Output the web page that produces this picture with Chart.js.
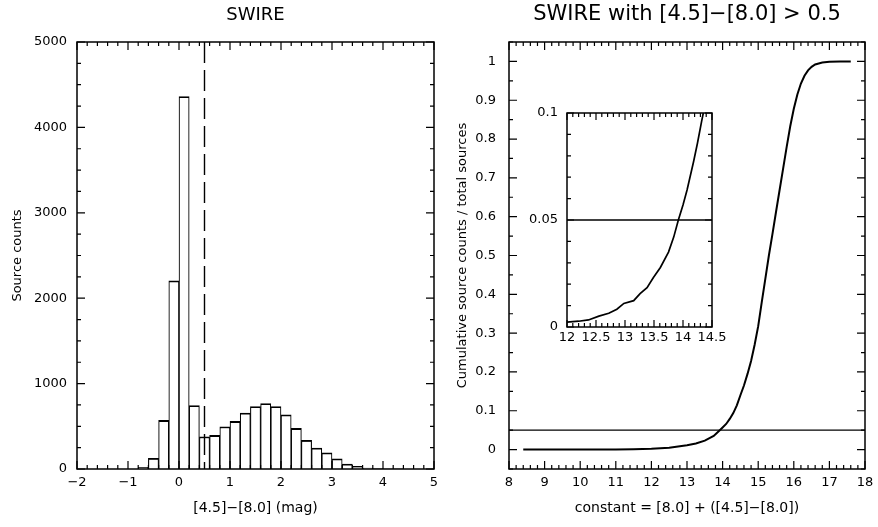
<!DOCTYPE html>
<html>
<head>
<meta charset="utf-8">
<script src="https://cdn.jsdelivr.net/npm/chart.js@4/dist/chart.umd.min.js"></script>
<style>
html, body { margin: 0; padding: 0; background: #fff; }
#wrap { position: relative; width: 878px; height: 527px; }
canvas { position: absolute; }
</style>
</head>
<body>
<div id="wrap">
  <canvas id="hist" width="440" height="527" style="left:0;top:0;width:440px;height:527px"></canvas>
  <canvas id="cumul" width="438" height="527" style="left:440px;top:0;width:438px;height:527px"></canvas>
  <canvas id="inset" width="240" height="250" style="left:500px;top:100px;width:240px;height:250px"></canvas>
</div>
<script>
// histogram of [4.5]-[8.0], bins of 0.2 mag
const binCenters = [-1.9, -1.7, -1.5, -1.3, -1.1, -0.9, -0.7, -0.5, -0.3, -0.1,
  0.1, 0.3, 0.5, 0.7, 0.9, 1.1, 1.3, 1.5, 1.7, 1.9,
  2.1, 2.3, 2.5, 2.7, 2.9, 3.1, 3.3, 3.5, 3.7, 3.9,
  4.1, 4.3, 4.5, 4.7, 4.9];
const binCounts = [0, 0, 0, 0, 0, 0, 20, 125, 569, 2204,
  4361, 744, 378, 393, 495, 557, 656, 732, 767, 732,
  635, 475, 335, 245, 190, 120, 58, 31, 12, 5,
  2, 1, 0, 0, 0];
const colourCut = 0.5;
const histXTicks = [-2, -1, 0, 1, 2, 3, 4, 5];
const histYTicks = [0, 1000, 2000, 3000, 4000, 5000];

// cumulative fraction for sources with [4.5]-[8.0] > 0.5
const cumX = [8.4, 9, 10, 11, 11.5, 12, 12.5, 13, 13.25, 13.5, 13.75, 13.92, 14.0, 14.1, 14.2,
  14.3, 14.4, 14.5, 14.6, 14.7, 14.8, 14.9, 15.0, 15.1, 15.2, 15.3, 15.4, 15.5, 15.6, 15.7,
  15.8, 15.9, 16.0, 16.1, 16.2, 16.3, 16.4, 16.5, 16.6, 16.8, 17.0, 17.3, 17.6];
const cumY = [0, 0, 0, 0.0003, 0.0007, 0.002, 0.005, 0.011, 0.0155, 0.023, 0.035, 0.05, 0.057, 0.066, 0.079,
  0.094, 0.114, 0.14, 0.165, 0.195, 0.228, 0.27, 0.318, 0.38, 0.44, 0.5, 0.555, 0.612, 0.668, 0.724,
  0.78, 0.833, 0.878, 0.915, 0.943, 0.963, 0.977, 0.986, 0.992, 0.997, 0.999, 1.0, 1.0];
const threshold = 0.05;
const cumXTicks = [8, 9, 10, 11, 12, 13, 14, 15, 16, 17, 18];
const cumYTicks = [0, 0.1, 0.2, 0.3, 0.4, 0.5, 0.6, 0.7, 0.8, 0.9, 1];

// zoom on the low end
const zoomX = [12, 12.2, 12.37, 12.55, 12.72, 12.86, 12.98, 13.15, 13.26, 13.38,
  13.49, 13.61, 13.75, 13.84, 13.92, 14.0, 14.07, 14.18, 14.25, 14.32, 14.35];
const zoomY = [0.0023, 0.0027, 0.0033, 0.0051, 0.0064, 0.0083, 0.011, 0.0123, 0.0156, 0.0184,
  0.0231, 0.0278, 0.035, 0.042, 0.05, 0.057, 0.064, 0.077, 0.086, 0.096, 0.1];
const zoomXTicks = [12, 12.5, 13, 13.5, 14, 14.5];
const zoomYTicks = [0, 0.05, 0.1];

const FONT = '"DejaVu Sans", sans-serif';
const fmt = v => String(Math.round(v * 1000) / 1000).replace('-', '\u2212');
const pts = (xs, ys) => xs.map((x, i) => ({x: x, y: ys[i]}));

// box round the plot with ticks pointing inwards on all four sides
const frameTicks = {
  id: 'frameTicks',
  afterDatasetsDraw(chart, args, o) {
    const ctx = chart.ctx, a = chart.chartArea, x = chart.scales.x, y = chart.scales.y;
    const marks = (min, max, step) => {
      let out = [];
      for (let k = Math.ceil(min / step - 1e-9); k * step <= max + 1e-9; k++) out.push(k * step);
      return out;
    };
    const isMajor = (v, step) => Math.abs(v / step - Math.round(v / step)) < 1e-6;
    ctx.save();
    ctx.strokeStyle = '#000';
    ctx.lineWidth = 1.5;
    ctx.strokeRect(a.left, a.top, a.right - a.left, a.bottom - a.top);
    ctx.beginPath();
    marks(x.min, x.max, o.xMinor).forEach(v => {
      const len = isMajor(v, o.xMajor) ? o.major : o.minor;
      const px = x.getPixelForValue(v);
      ctx.moveTo(px, a.bottom); ctx.lineTo(px, a.bottom - len);
      ctx.moveTo(px, a.top); ctx.lineTo(px, a.top + len);
    });
    marks(y.min, y.max, o.yMinor).forEach(v => {
      const len = isMajor(v, o.yMajor) ? o.major : o.minor;
      const py = y.getPixelForValue(v);
      ctx.moveTo(a.left, py); ctx.lineTo(a.left + len, py);
      ctx.moveTo(a.right, py); ctx.lineTo(a.right - len, py);
    });
    ctx.lineWidth = 1.2;
    ctx.stroke();
    ctx.restore();
  }
};

function axis(min, max, ticks, pad, size, title) {
  const ax = {
    type: 'linear', min: min, max: max, offset: false,
    grid: {display: false, drawTicks: false, offset: false},
    border: {display: false},
    afterBuildTicks: s => { s.ticks = ticks.map(v => ({value: v})); },
    ticks: {color: '#000', font: {family: FONT, size: 13}, padding: pad, autoSkip: false, maxRotation: 0, callback: fmt},
    afterFit: s => {
      // fixed axis boxes, so the plot area sits where the original has it
      if (s.isHorizontal()) s.height = size; else s.width = size;
      s.paddingLeft = s.paddingRight = s.paddingTop = s.paddingBottom = 0;
    }
  };
  if (title) ax.title = title;
  return ax;
}

function plotTitle(text, size) {
  const lh = size * 1.2;
  return {display: true, text: text, fullSize: false, color: '#000',
    font: {family: FONT, size: size, weight: 'normal', lineHeight: 1.2},
    padding: {top: 15 - lh / 2, bottom: 42 - lh - (15 - lh / 2)}};
}

function xTitle(text) {
  return {display: true, text: text, color: '#000',
    font: {family: FONT, size: 14, weight: 'normal', lineHeight: 1.2}, padding: {top: 0, bottom: 10.6}};
}

function yTitle(text, pad) {
  return {display: true, text: text, color: '#000',
    font: {family: FONT, size: 13, weight: 'normal', lineHeight: 1.2}, padding: {top: pad, bottom: 0}};
}

new Chart(document.getElementById('hist'), {
  type: 'bar',
  data: {
    datasets: [{
      data: pts(binCenters, binCounts),
      backgroundColor: '#fff',
      borderColor: '#000',
      borderWidth: {top: 1.8, left: 1.1, right: 1.1, bottom: 0},
      borderSkipped: 'start',
      barPercentage: 1,
      categoryPercentage: 1,
      order: 2
    }, {
      type: 'line',
      data: pts([colourCut, colourCut], [5000, 0]),
      borderColor: '#000',
      borderWidth: 1.4,
      borderDash: [21, 7],
      pointRadius: 0,
      order: 1
    }]
  },
  options: {
    responsive: false,
    animation: false,
    layout: {padding: {left: 0, right: 6, top: 0, bottom: 0}},
    plugins: {
      legend: {display: false},
      tooltip: {enabled: false},
      title: plotTitle('SWIRE', 18),
      frameTicks: {xMajor: 1, xMinor: 0.2, yMajor: 1000, yMinor: 250, major: 8, minor: 4}
    },
    scales: {
      x: axis(-2, 5, histXTicks, 6, 58, xTitle('[4.5]\u2212[8.0] (mag)')),
      y: axis(0, 5000, histYTicks, 10, 77, yTitle('Source counts', 9.7))
    }
  },
  plugins: [frameTicks]
});

new Chart(document.getElementById('cumul'), {
  type: 'scatter',
  data: {
    datasets: [{
      data: pts(cumX, cumY),
      showLine: true,
      borderColor: '#000',
      borderWidth: 2,
      pointRadius: 0,
      tension: 0
    }, {
      data: pts([8, 18], [threshold, threshold]),
      showLine: true,
      borderColor: '#000',
      borderWidth: 1.3,
      pointRadius: 0
    }]
  },
  options: {
    responsive: false,
    animation: false,
    layout: {padding: {left: 0, right: 13, top: 0, bottom: 0}},
    plugins: {
      legend: {display: false},
      tooltip: {enabled: false},
      title: plotTitle('SWIRE with [4.5]\u2212[8.0] > 0.5', 21),
      frameTicks: {xMajor: 1, xMinor: 0.2, yMajor: 0.1, yMinor: 0.05, major: 8, minor: 4}
    },
    scales: {
      x: axis(8, 18, cumXTicks, 6, 58, xTitle('constant = [8.0] + ([4.5]\u2212[8.0])')),
      y: axis(-0.05, 1.05, cumYTicks, 13, 69, yTitle('Cumulative source counts / total sources', 15.2))
    }
  },
  plugins: [frameTicks]
});

new Chart(document.getElementById('inset'), {
  type: 'scatter',
  data: {
    datasets: [{
      data: pts(zoomX, zoomY),
      showLine: true,
      borderColor: '#000',
      borderWidth: 1.7,
      pointRadius: 0,
      tension: 0
    }, {
      data: pts([12, 14.5], [threshold, threshold]),
      showLine: true,
      borderColor: '#000',
      borderWidth: 1.3,
      pointRadius: 0
    }]
  },
  options: {
    responsive: false,
    animation: false,
    layout: {padding: {left: 0, right: 28, top: 13, bottom: 0}},
    plugins: {
      legend: {display: false},
      tooltip: {enabled: false},
      frameTicks: {xMajor: 0.5, xMinor: 0.1, yMajor: 0.05, yMinor: 0.01, major: 7, minor: 4}
    },
    scales: {
      x: axis(12, 14.5, zoomXTicks, 3, 23),
      y: axis(0, 0.1, zoomYTicks, 9, 67)
    }
  },
  plugins: [frameTicks]
});
</script>
</body>
</html>
